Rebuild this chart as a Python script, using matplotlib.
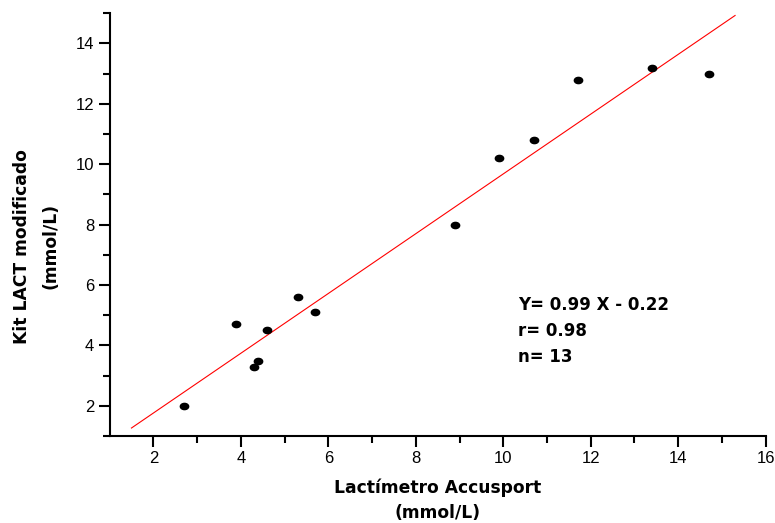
import numpy as np
import matplotlib.pyplot as plt
from matplotlib.path import Path
from matplotlib.transforms import Affine2D

plt.rcParams['font.family'] = ['Liberation Sans', 'DejaVu Sans']

# Lactímetro Accusport vs Kit LACT modificado (mmol/L)
accusport = [2.7, 3.9, 4.3, 4.4, 4.6, 5.3, 5.7, 8.9, 9.9, 10.7, 11.7, 13.4, 14.7]
kit_lact = [2.0, 4.7, 3.3, 3.5, 4.5, 5.6, 5.1, 8.0, 10.2, 10.8, 12.8, 13.2, 13.0]
slope = 0.99
intercept = -0.22
fit_range = [1.5, 15.3]
stats_lines = ["Y= 0.99 X - 0.22", "r= 0.98", "n= 13"]

fig = plt.figure(figsize=(7.75, 5.23), dpi=100)
ax = fig.add_axes([0.1414, 0.1663, 0.8466, 0.8083])

# slightly flattened dot, like the original
ellipse = Affine2D().scale(1.0, 0.75).transform_path(Path.unit_circle())

fx = np.array(fit_range)
ax.plot(fx, slope * fx + intercept, color='red', lw=0.8)
ax.plot(accusport, kit_lact, linestyle='none', marker=ellipse, color='black', markersize=6)

ax.set_xlim(1, 16)
ax.set_ylim(1, 15)
ax.set_xticks(range(2, 17, 2))
ax.set_xticks(range(3, 17, 2), minor=True)
ax.set_yticks(range(2, 15, 2))
ax.set_yticks(range(1, 16, 2), minor=True)

for s in ['top', 'right']:
    ax.spines[s].set_visible(False)
for s in ['left', 'bottom']:
    ax.spines[s].set_linewidth(1.5)
ax.tick_params(which='major', length=8, width=1.5, labelsize=12, pad=3)
ax.tick_params(which='minor', length=5, width=1.5)
for lbl in ax.get_xticklabels() + ax.get_yticklabels():
    lbl.set_family('Liberation Sans')

lab_font = dict(family='DejaVu Sans', fontsize=12.3, fontweight='bold')
ax.set_xlabel("Lactímetro Accusport\n(mmol/L)", linespacing=1.5, va='center', **lab_font)
ax.xaxis.set_label_coords(0.5, -0.152)
ax.set_ylabel("Kit LACT modificado\n(mmol/L)", linespacing=1.7, va='center', **lab_font)
ax.yaxis.set_label_coords(-0.112, 0.449)

ax.text(10.34, 5.63, "\n".join(stats_lines), family='DejaVu Sans', fontsize=12,
        fontweight='bold', va='top', ha='left', linespacing=1.55)

fig.savefig("out.png", dpi=100)
